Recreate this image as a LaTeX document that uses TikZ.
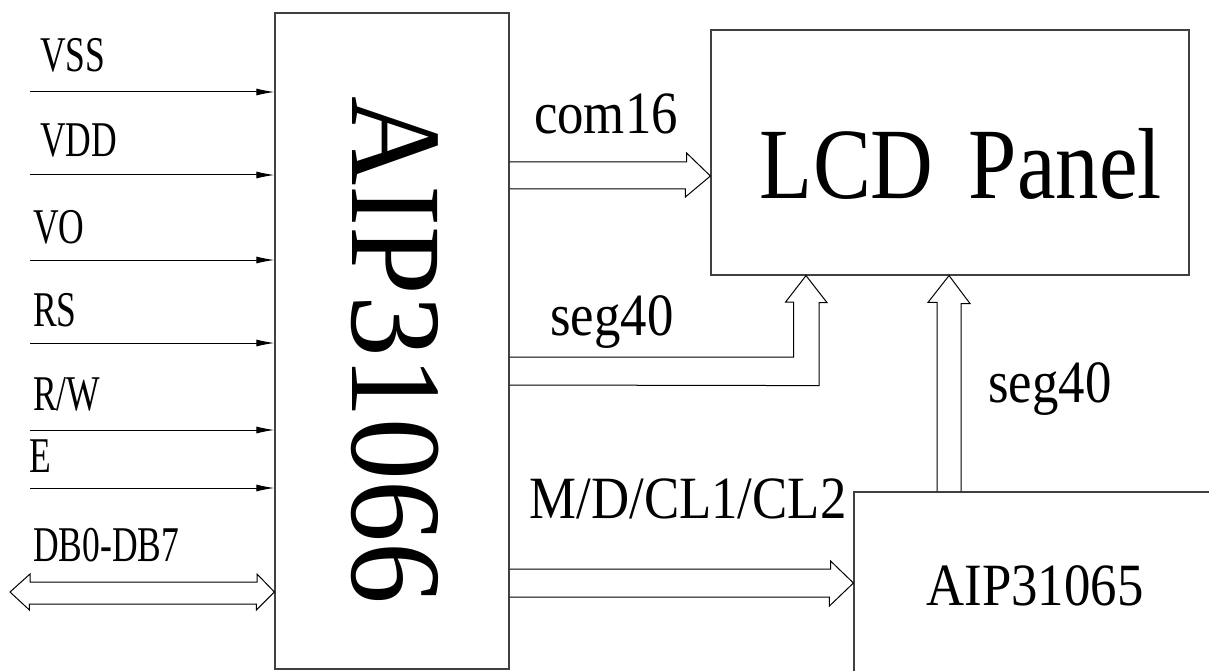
\documentclass[tikz,border=0pt]{standalone}
\usepackage{fontspec}
\setmainfont{Liberation Serif}
\newfontfamily\sigfont[FakeStretch=0.71]{Liberation Serif}
\newfontfamily\busfont[FakeStretch=0.88]{Liberation Serif}
\newfontfamily\chipfont[FakeStretch=0.95]{Liberation Serif}
\newfontfamily\panelfont[FakeStretch=0.86]{Liberation Serif}
\usetikzlibrary{arrows.meta}
\tikzset{
  blk/.style={draw=black!75,line width=1.2pt,inner sep=0pt},
  sig/.style={line width=1pt,-{Latex[length=18pt,width=7pt]}},
  bus/.style={draw,line width=1pt,line join=miter},
  siglbl/.style={anchor=base west,inner sep=0pt,font={\sigfont\fontsize{50}{55}\selectfont}},
  buslbl/.style={anchor=base,inner sep=0pt,font={\busfont\fontsize{60}{66}\selectfont}},
}
\begin{document}
\begin{tikzpicture}[x=1pt,y=-1pt]
\useasboundingbox (0,0) rectangle (1209,671);
\fill[white] (0,0) rectangle (1209,671);
\clip (0,0) rectangle (1209,671);
% blocks
\node[blk,minimum width=234,minimum height=656] (ctl) at (392,341) {};
\node[blk,minimum width=478,minimum height=245] (lcd) at (950,152.5) {};
\node[blk,minimum width=362,minimum height=220] (drv) at (1035,602) {};
\node[rotate=-90,anchor=base west,inner sep=0pt,font={\chipfont\fontsize{130}{140}\selectfont}] (ctltxt) at (352,96) {AIP31066};
\node[anchor=base,inner sep=0pt,font={\panelfont\fontsize{101}{110}\selectfont}] (lcdtxt) at (961,198) {LCD\hspace*{.35em}Panel};
\node[buslbl] (drvtxt) at (1035,605) {AIP31065};
% input signals
\coordinate (vssin) at (30,92);
\draw[sig] (vssin) -- (ctl.west |- vssin);
\node[siglbl] (vsslbl) at (40,72) {VSS};
\coordinate (vddin) at (30,175);
\draw[sig] (vddin) -- (ctl.west |- vddin);
\node[siglbl] (vddlbl) at (40,157) {VDD};
\coordinate (voin) at (30,260);
\draw[sig] (voin) -- (ctl.west |- voin);
\node[siglbl] (volbl) at (33,243) {VO};
\coordinate (rsin) at (30,343);
\draw[sig] (rsin) -- (ctl.west |- rsin);
\node[siglbl] (rslbl) at (33,326) {RS};
\coordinate (rwin) at (30,430);
\draw[sig] (rwin) -- (ctl.west |- rwin);
\node[siglbl] (rwlbl) at (33,410) {R/W};
\coordinate (ein) at (30,488);
\draw[sig] (ein) -- (ctl.west |- ein);
\node[siglbl] (elbl) at (29,472) {E};
% data bus
\coordinate (dbin) at (10,592);
\draw[bus] (dbin) -- ++(20,-18) -- ++(0,8) -- ++(227,0) -- ++(0,-8) -- (ctl.west |- dbin) -- ++(-18,18) -- ++(0,-6) -- ++(-227,0) -- ++(0,6) -- cycle;
\node[siglbl] (dblbl) at (33,561) {DB0-DB7};
% buses to panel and driver
\draw[bus] (ctl.east |- 0,162) -- ++(177,0) -- ++(0,-9) -- (lcd.west |- 0,176) -- ++(-25,21) -- ++(0,-8) -- (ctl.east |- 0,189);
\node[buslbl] (comlbl) at (606,134) {com16};
\draw[bus] (ctl.east |- 0,357) -- ++(284,0) -- ++(0,-55) -- ++(-8,0) -- (lcd.south -| 806,0) -- ++(21,27) -- ++(-8,0) -- ++(0,83) -- (ctl.east |- 0,385);
\node[buslbl] (seglbl) at (612,335) {seg40};
\draw[bus] (ctl.east |- 0,569) -- ++(321,0) -- ++(0,-8) -- (drv.west |- 0,583) -- ++(-24,23) -- ++(0,-9) -- (ctl.east |- 0,597);
\node[buslbl] (mdlbl) at (688,518) {M/D/CL1/CL2};
\draw[bus] (drv.north -| 937,0) -- ++(0,-189) -- ++(-9,0) -- (lcd.south -| 949,0) -- ++(21,28) -- ++(-9,0) -- (drv.north -| 961,0);
\node[buslbl] (seg2lbl) at (1050,402) {seg40};
\end{tikzpicture}
\end{document}
